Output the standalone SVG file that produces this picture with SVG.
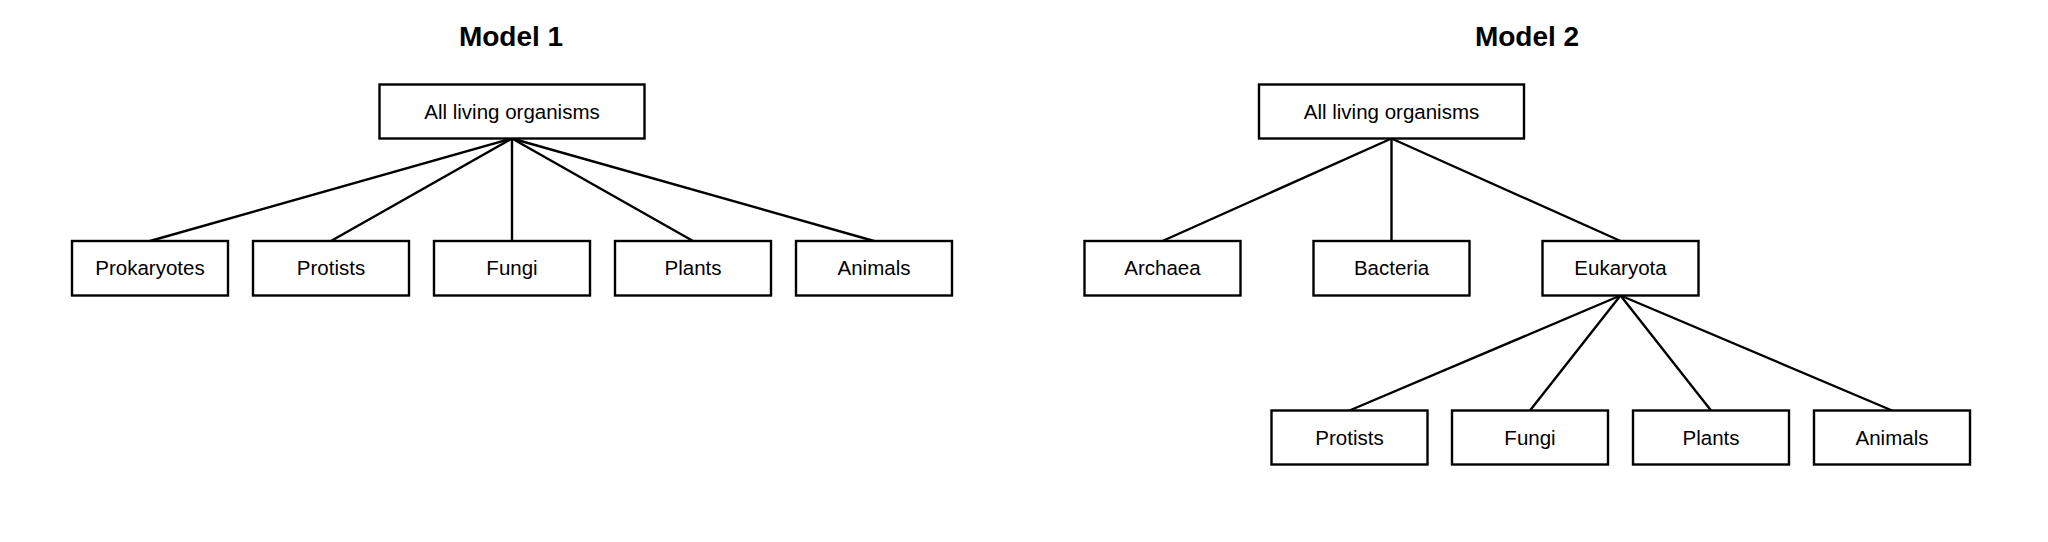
<svg xmlns="http://www.w3.org/2000/svg" width="2048" height="542" viewBox="0 0 2048 542">
<style>
.bg{fill:#ffffff}
.box{fill:#ffffff;stroke:#000000;stroke-width:2.4}
.lbl{font-family:"Liberation Sans",Arial,sans-serif;font-size:20.5px;fill:#000000;text-anchor:middle}
.title{font-family:"Liberation Sans",Arial,sans-serif;font-size:28px;font-weight:bold;fill:#000000;text-anchor:middle}
.edge{stroke:#000000;stroke-width:2.4;fill:none}
</style>
<rect class="bg" x="0" y="0" width="2048" height="542"/>
<text class="title" x="511" y="46">Model 1</text>
<text class="title" x="1527" y="46">Model 2</text>
<g id="connectors">
<line class="edge" x1="512" y1="138.5" x2="150" y2="241"/>
<line class="edge" x1="512" y1="138.5" x2="331" y2="241"/>
<line class="edge" x1="512" y1="138.5" x2="512" y2="241"/>
<line class="edge" x1="512" y1="138.5" x2="693" y2="241"/>
<line class="edge" x1="512" y1="138.5" x2="874" y2="241"/>
<line class="edge" x1="1391.5" y1="138.5" x2="1162.5" y2="241"/>
<line class="edge" x1="1391.5" y1="138.5" x2="1391.5" y2="241"/>
<line class="edge" x1="1391.5" y1="138.5" x2="1620.5" y2="241"/>
<line class="edge" x1="1620.5" y1="295.5" x2="1349.5" y2="410.5"/>
<line class="edge" x1="1620.5" y1="295.5" x2="1530" y2="410.5"/>
<line class="edge" x1="1620.5" y1="295.5" x2="1711" y2="410.5"/>
<line class="edge" x1="1620.5" y1="295.5" x2="1892" y2="410.5"/>
</g>
<g id="m1-root"><rect class="box" x="379.5" y="84.5" width="265" height="54"/><text class="lbl" x="512" y="118.5">All living organisms</text></g>
<g id="m1-prokaryotes"><rect class="box" x="72" y="241" width="156" height="54.5"/><text class="lbl" x="150" y="275">Prokaryotes</text></g>
<g id="m1-protists"><rect class="box" x="253" y="241" width="156" height="54.5"/><text class="lbl" x="331" y="275">Protists</text></g>
<g id="m1-fungi"><rect class="box" x="434" y="241" width="156" height="54.5"/><text class="lbl" x="512" y="275">Fungi</text></g>
<g id="m1-plants"><rect class="box" x="615" y="241" width="156" height="54.5"/><text class="lbl" x="693" y="275">Plants</text></g>
<g id="m1-animals"><rect class="box" x="796" y="241" width="156" height="54.5"/><text class="lbl" x="874" y="275">Animals</text></g>
<g id="m2-root"><rect class="box" x="1259" y="84.5" width="265" height="54"/><text class="lbl" x="1391.5" y="118.5">All living organisms</text></g>
<g id="m2-archaea"><rect class="box" x="1084.5" y="241" width="156" height="54.5"/><text class="lbl" x="1162.5" y="275">Archaea</text></g>
<g id="m2-bacteria"><rect class="box" x="1313.5" y="241" width="156" height="54.5"/><text class="lbl" x="1391.5" y="275">Bacteria</text></g>
<g id="m2-eukaryota"><rect class="box" x="1542.5" y="241" width="156" height="54.5"/><text class="lbl" x="1620.5" y="275">Eukaryota</text></g>
<g id="m2-protists"><rect class="box" x="1271.5" y="410.5" width="156" height="54"/><text class="lbl" x="1349.5" y="444.5">Protists</text></g>
<g id="m2-fungi"><rect class="box" x="1452" y="410.5" width="156" height="54"/><text class="lbl" x="1530" y="444.5">Fungi</text></g>
<g id="m2-plants"><rect class="box" x="1633" y="410.5" width="156" height="54"/><text class="lbl" x="1711" y="444.5">Plants</text></g>
<g id="m2-animals"><rect class="box" x="1814" y="410.5" width="156" height="54"/><text class="lbl" x="1892" y="444.5">Animals</text></g>
</svg>
